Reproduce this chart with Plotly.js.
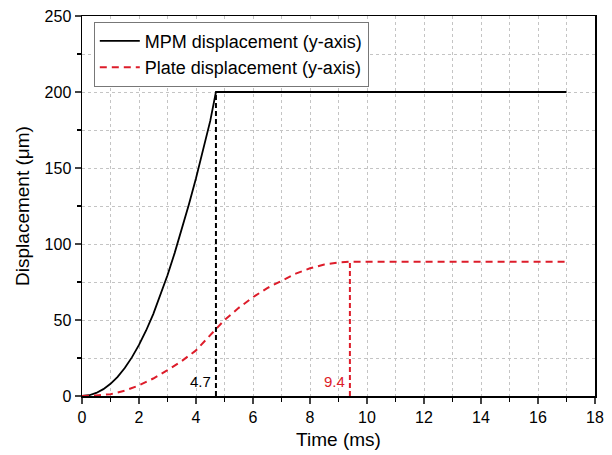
<!DOCTYPE html>
<html>
<head>
<meta charset="utf-8">
<script src="https://cdn.plot.ly/plotly-3.0.1.min.js"></script>
<style>html,body{margin:0;padding:0;background:#fff}#chart{width:612px;height:455px}</style>
</head>
<body>
<div id="chart"></div>
<script>
// MPM displacement (black, solid)
const mpmTime = [0,0.25,0.5,0.75,1,1.25,1.5,1.75,2,2.25,2.5,2.75,3,3.25,3.5,3.75,4,4.25,4.5,4.7,17];
const mpmDisp = [0,0.5,2,4.5,8,12.6,18.4,25.4,33.6,43.1,53.9,66,79.4,94,109.6,126,143.2,161.4,181,200,200];
// Plate displacement (red, dashed)
const plateTime = [0,0.5,1,1.5,2,2.5,3,3.5,4,4.5,5,5.5,6,6.5,7,7.5,8,8.5,9,9.4,17];
const plateDisp = [0,0.3,1.2,3.5,7,11.5,17,23,30,40,50,58,65,71,76,80.5,84,86.5,87.8,88.3,88.3];
// Marker lines (time at which each reaches its plateau)
const markTimes = [4.7, 9.4];
const markDisp = [200, 88.3];
const markLabels = ['4.7', '9.4'];
const markColors = ['#000000', '#dd1c2a'];

const traces = [
  {x: mpmTime, y: mpmDisp, mode: 'lines', name: 'MPM displacement (y-axis)',
   line: {color: '#000000', width: 1.8}},
  {x: plateTime, y: plateDisp, mode: 'lines', name: 'Plate displacement (y-axis)',
   line: {color: '#dd1c2a', width: 2, dash: '7px,5px'}},
];
markTimes.forEach((t, i) => {
  traces.push({x: [t, t], y: [0, markDisp[i]], mode: 'lines', showlegend: false,
    hoverinfo: 'skip', line: {color: markColors[i], width: 2, dash: '5px,3px'}});
});

const annotations = markTimes.map((t, i) => ({
  x: t, y: 9.5, xref: 'x', yref: 'y', text: markLabels[i], showarrow: false,
  xanchor: 'right', yanchor: 'middle', xshift: -3,
  font: {family: 'Liberation Sans, Arial, sans-serif', size: 15, color: markColors[i]}
}));

const gridColor = '#c4c4c4';
const layout = {
  width: 612, height: 455,
  margin: {l: 82, r: 17, t: 16, b: 59},
  paper_bgcolor: '#fff', plot_bgcolor: '#fff',
  font: {family: 'Liberation Sans, Arial, sans-serif', color: '#000', size: 16},
  showlegend: true,
  legend: {x: 0.023, y: 0.985, xanchor: 'left', yanchor: 'top',
    bgcolor: '#fff', bordercolor: '#777', borderwidth: 1,
    font: {size: 18}, itemwidth: 40, tracegroupgap: 0},
  xaxis: {range: [0, 18], dtick: 2, tick0: 0, ticks: 'outside', ticklen: 6, tickwidth: 1.5,
    showline: true, linecolor: '#000', linewidth: 1.5, mirror: true, zeroline: false,
    showgrid: true, gridcolor: gridColor, griddash: 'dot', gridwidth: 1,
    minor: {dtick: 1, ticks: 'outside', ticklen: 4, tickwidth: 1.2, tickcolor: '#000',
      showgrid: true, gridcolor: gridColor, griddash: 'dot', gridwidth: 1},
    tickfont: {size: 16},
    title: {text: 'Time (ms)', font: {size: 19}, standoff: 8}},
  yaxis: {range: [0, 250], dtick: 50, tick0: 0, ticks: 'outside', ticklen: 6, tickwidth: 1.5,
    showline: true, linecolor: '#000', linewidth: 1.5, mirror: true, zeroline: false,
    showgrid: true, gridcolor: gridColor, griddash: 'dot', gridwidth: 1,
    minor: {dtick: 25, ticks: 'outside', ticklen: 4, tickwidth: 1.2, tickcolor: '#000',
      showgrid: true, gridcolor: gridColor, griddash: 'dot', gridwidth: 1},
    tickfont: {size: 16},
    title: {text: 'Displacement (μm)', font: {size: 19}, standoff: 10}},
  annotations: annotations
};

Plotly.newPlot('chart', traces, layout, {staticPlot: true, displayModeBar: false});
</script>
</body>
</html>
